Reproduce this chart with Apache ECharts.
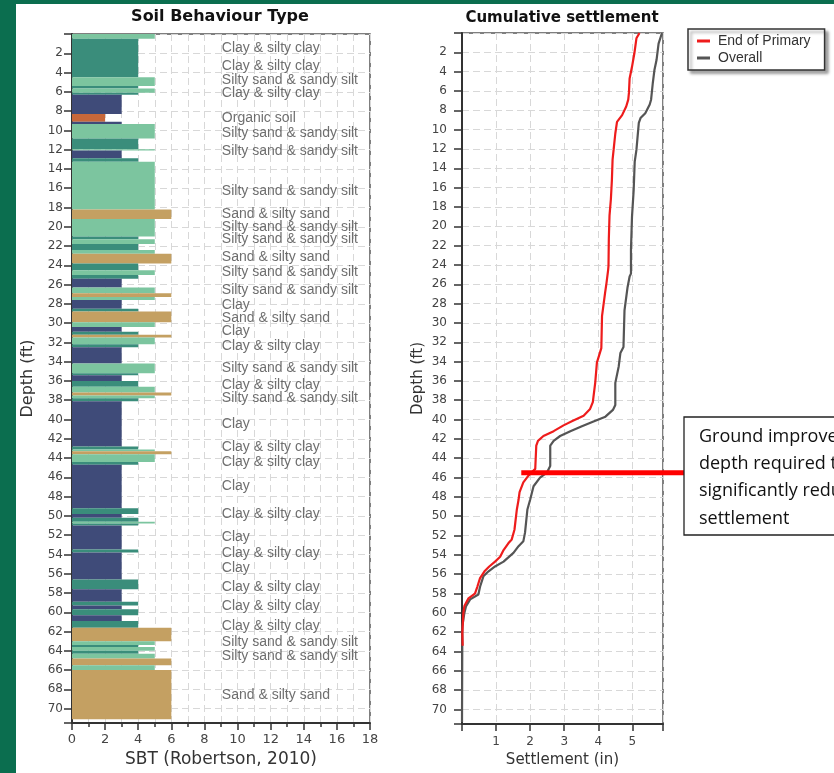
<!DOCTYPE html>
<html>
<head>
<meta charset="utf-8">
<title>Soil Behaviour Type / Cumulative settlement</title>
<script src="https://cdn.jsdelivr.net/npm/echarts@6/dist/echarts.min.js"></script>
<style>
html, body { margin: 0; padding: 0; background: #fff; }
#chart { width: 834px; height: 773px; }
</style>
</head>
<body>
<div id="chart"></div>
<script>
// SBT layers (depth in ft)
var layerTop = [0, 0.5, 4.5, 5.4, 5.65, 6.1, 6.3, 8.3, 9.1, 9.35, 10.85, 11.95, 12.1, 12.9, 13.25, 18.2, 19.2, 21.0, 21.3, 21.8,
  22.4, 22.8, 23.8, 24.5, 25.0, 25.4, 26.3, 26.9, 27.3, 27.6, 28.5, 28.8, 29.9, 30.4, 30.9, 31.2, 31.5, 32.2, 32.5, 34.2,
  35.2, 35.4, 36.0, 36.6, 37.2, 37.5, 37.8, 38.1, 42.8, 43.1, 43.3, 43.6, 44.4, 44.7, 49.2, 49.8, 50.2, 50.6, 50.8, 51.0,
  53.5, 53.8, 56.6, 57.6, 58.9, 59.3, 59.7, 60.3, 60.9, 61.6, 63.0, 63.4, 63.6, 64.0, 64.3, 64.8, 65.5, 66.0];
var layerBottom = [0.5, 4.5, 5.4, 5.65, 6.1, 6.3, 8.3, 9.1, 9.35, 10.85, 11.95, 12.1, 12.9, 13.25, 18.2, 19.2, 21.0, 21.3, 21.8, 22.4,
  22.8, 23.8, 24.5, 25.0, 25.4, 26.3, 26.9, 27.3, 27.6, 28.5, 28.8, 29.9, 30.4, 30.9, 31.2, 31.5, 32.2, 32.5, 34.2, 35.2,
  35.4, 36.0, 36.6, 37.2, 37.5, 37.8, 38.1, 42.8, 43.1, 43.3, 43.6, 44.4, 44.7, 49.2, 49.8, 50.2, 50.6, 50.8, 51.0, 53.5,
  53.8, 56.6, 57.6, 58.9, 59.3, 59.7, 60.3, 60.9, 61.6, 63.0, 63.4, 63.6, 64.0, 64.3, 64.8, 65.5, 66.0, 71.1];
var layerSbt = [5, 4, 5, 4, 5, 4, 3, 2, 3, 5, 4, 5, 3, 4, 5, 6, 5, 4, 5, 4,
  5, 6, 4, 5, 4, 3, 5, 6, 5, 3, 4, 6, 5, 3, 4, 6, 5, 4, 3, 5,
  4, 3, 4, 5, 6, 5, 4, 3, 4, 5, 6, 5, 4, 3, 4, 3, 4, 5, 4, 3,
  4, 3, 4, 3, 4, 3, 4, 3, 4, 6, 5, 4, 5, 4, 5, 6, 5, 6];

// soil type labels
var labelDepth = [1.5, 3.35, 4.8, 6.15, 8.75, 10.25, 12.2, 16.3, 18.65, 20.0, 21.25, 23.2, 24.75, 26.55, 28.1, 29.5, 30.8, 32.35,
  34.65, 36.4, 37.75, 40.45, 42.9, 44.4, 46.9, 49.85, 52.25, 53.85, 55.4, 57.4, 59.35, 61.4, 63.15, 64.55, 68.65];
var labelName = ['Clay & silty clay', 'Clay & silty clay', 'Silty sand & sandy silt', 'Clay & silty clay', 'Organic soil',
  'Silty sand & sandy silt', 'Silty sand & sandy silt', 'Silty sand & sandy silt', 'Sand & silty sand', 'Silty sand & sandy silt',
  'Silty sand & sandy silt', 'Sand & silty sand', 'Silty sand & sandy silt', 'Silty sand & sandy silt', 'Clay', 'Sand & silty sand',
  'Clay', 'Clay & silty clay', 'Silty sand & sandy silt', 'Clay & silty clay', 'Silty sand & sandy silt', 'Clay', 'Clay & silty clay',
  'Clay & silty clay', 'Clay', 'Clay & silty clay', 'Clay', 'Clay & silty clay', 'Clay', 'Clay & silty clay', 'Clay & silty clay',
  'Clay & silty clay', 'Silty sand & sandy silt', 'Silty sand & sandy silt', 'Sand & silty sand'];

// cumulative settlement (in) vs depth (ft)
var eopDepth = [0, 0.55, 2.1, 3.5, 4.7, 6.2, 6.9, 7.6, 8.5, 9.2, 10.4, 12.1, 13.1, 15.2, 17.2, 18.9, 21.3, 24.1, 24.5, 25.9,
  26.9, 29.3, 32.6, 34.1, 36.2, 38.2, 38.9, 39.6, 40.1, 40.6, 41.2, 41.7, 42.2, 42.7, 45.1, 45.8, 46.5, 47.5, 48.3, 49.3,
  51.4, 52.4, 52.8, 53.5, 54.2, 54.7, 55.2, 55.7, 56.4, 57.3, 58.0, 58.5, 59.3, 60.0, 62.1, 63.4];
var eopSettle = [5.21, 5.12, 5.06, 4.99, 4.92, 4.90, 4.88, 4.82, 4.70, 4.55, 4.50, 4.45, 4.42, 4.40, 4.37, 4.33, 4.31, 4.30, 4.29, 4.24,
  4.20, 4.11, 4.09, 3.96, 3.91, 3.84, 3.76, 3.57, 3.27, 2.98, 2.69, 2.39, 2.23, 2.18, 2.15, 1.95, 1.80, 1.69, 1.66, 1.61,
  1.54, 1.46, 1.36, 1.22, 1.12, 0.97, 0.80, 0.66, 0.53, 0.45, 0.38, 0.19, 0.07, 0.04, 0.01, 0.02];
var overallDepth = [0, 1.1, 2.8, 3.8, 5.2, 6.9, 7.4, 8.3, 8.8, 9.3, 12.1, 13.3, 16.2, 19.0, 22.4, 24.9, 25.2, 26.3, 28.7, 32.5,
  33.1, 34.5, 36.2, 38.5, 39.0, 39.7, 40.2, 40.7, 41.2, 41.7, 42.2, 42.7, 44.8, 45.5, 46.0, 46.9, 48.3, 49.3, 51.7, 52.6,
  53.1, 53.8, 54.7, 55.2, 55.7, 56.2, 57.3, 58.1, 58.6, 59.3, 60.0, 60.7, 61.4, 71.3];
var overallSettle = [5.87, 5.77, 5.71, 5.65, 5.60, 5.55, 5.51, 5.38, 5.24, 5.19, 5.12, 5.07, 5.04, 4.99, 4.96, 4.96, 4.92, 4.86, 4.77, 4.74,
  4.65, 4.60, 4.50, 4.50, 4.43, 4.21, 3.86, 3.52, 3.18, 2.88, 2.69, 2.59, 2.59, 2.49, 2.29, 2.10, 2.00, 1.92, 1.85, 1.80,
  1.66, 1.51, 1.22, 0.97, 0.78, 0.63, 0.53, 0.48, 0.24, 0.12, 0.07, 0.04, 0.01, 0.0];

var improvementDepth = 45.5;
var improvementText = 'Ground improvement\ndepth required to\nsignificantly reduce\nsettlement';

var sbtColors = { 2: '#c8683a', 3: '#3f4b79', 4: '#3a8d7b', 5: '#7cc59f', 6: '#c4a062' };
var gridLine = { color: '#d8d8d8', type: [7, 4], width: 1 };
var darkLine = { color: '#333', width: 2 };

function depthAxis(gridIndex, labelSize, labelMargin, nameSize, nameGap) {
  return {
    type: 'value', gridIndex: gridIndex, inverse: true, min: 0, max: 71.5, interval: 2,
    name: 'Depth (ft)', nameLocation: 'middle', nameGap: nameGap,
    nameTextStyle: { fontFamily: 'DejaVu Sans', fontSize: nameSize, color: '#333' },
    axisLine: { show: true, onZero: false, lineStyle: darkLine },
    axisTick: { show: true, length: 8, lineStyle: { color: '#333', width: 1.5 } },
    axisLabel: {
      fontFamily: 'DejaVu Sans', fontSize: labelSize, color: '#444', margin: labelMargin,
      formatter: function (v) { return (v > 0 && v < 71 && v % 2 === 0) ? String(v) : ''; }
    },
    splitLine: { show: true, lineStyle: gridLine }
  };
}

var chart = echarts.init(document.getElementById('chart'));

var option = {
  animation: false,
  backgroundColor: '#fff',
  title: [
    { text: 'Soil Behaviour Type', left: 220, top: 9, textAlign: 'center', padding: 0,
      textStyle: { fontFamily: 'DejaVu Sans', fontWeight: 'bold', fontSize: 16, color: '#111' } },
    { text: 'Cumulative settlement', left: 562, top: 11, textAlign: 'center', padding: 0,
      textStyle: { fontFamily: 'DejaVu Sans', fontWeight: 'bold', fontSize: 15, color: '#111' } }
  ],
  legend: {
    left: 688, top: 29, orient: 'vertical',
    data: ['End of Primary', 'Overall'],
    icon: 'rect', itemWidth: 13, itemHeight: 3, itemGap: 3,
    padding: [5, 14, 5, 9],
    borderColor: '#333', borderWidth: 1.5, backgroundColor: '#fff',
    shadowColor: 'rgba(0,0,0,0.35)', shadowBlur: 3, shadowOffsetX: 3, shadowOffsetY: 3,
    textStyle: { fontFamily: 'Liberation Sans', fontSize: 14, color: '#333', padding: [0, 0, 0, 3] }
  },
  grid: [
    { left: 72, top: 34, width: 298, height: 691, show: true, borderColor: '#555', borderWidth: 1.5 },
    { left: 462, top: 33, width: 201, height: 691, show: true, borderColor: '#555', borderWidth: 1.5 }
  ],
  xAxis: [
    {
      type: 'value', gridIndex: 0, min: 0, max: 18, interval: 2, position: 'bottom',
      name: 'SBT (Robertson, 2010)', nameLocation: 'middle', nameGap: 22,
      nameTextStyle: { fontFamily: 'DejaVu Sans', fontSize: 17, color: '#333' },
      axisLine: { show: true, onZero: false, lineStyle: darkLine },
      axisTick: { show: true, length: 7, lineStyle: { color: '#333', width: 1.5 } },
      minorTick: { show: true, splitNumber: 2, length: 4, lineStyle: { color: '#333', width: 1.5 } },
      axisLabel: { fontFamily: 'DejaVu Sans', fontSize: 13, color: '#444', margin: 10 },
      splitLine: { show: true, lineStyle: gridLine },
      minorSplitLine: { show: true, lineStyle: gridLine }
    },
    {
      type: 'value', gridIndex: 1, min: 0, max: 5.9, interval: 1, position: 'bottom',
      name: 'Settlement (in)', nameLocation: 'middle', nameGap: 27,
      nameTextStyle: { fontFamily: 'DejaVu Sans', fontSize: 15, color: '#333' },
      axisLine: { show: true, onZero: false, lineStyle: darkLine },
      axisTick: { show: true, length: 7, lineStyle: { color: '#333', width: 1.5 } },
      axisLabel: {
        fontFamily: 'DejaVu Sans', fontSize: 12, color: '#444', margin: 12,
        formatter: function (v) { return (v > 0 && v <= 5 && Math.round(v) === v) ? String(v) : ''; }
      },
      splitLine: { show: true, lineStyle: gridLine }
    }
  ],
  yAxis: [
    depthAxis(0, 12, 9, 16, 36),
    depthAxis(1, 12, 15, 15, 36)
  ],
  series: [
    {
      type: 'custom', name: 'SBT', xAxisIndex: 0, yAxisIndex: 0, silent: true,
      data: layerTop.map(function (t, i) { return [t, layerBottom[i], layerSbt[i]]; }),
      encode: { x: 2, y: [0, 1] },
      renderItem: function (params, api) {
        var p0 = api.coord([0, api.value(0)]);
        var p1 = api.coord([api.value(2), api.value(1)]);
        return {
          type: 'rect',
          shape: { x: p0[0], y: p0[1], width: p1[0] - p0[0], height: p1[1] - p0[1] },
          style: { fill: sbtColors[api.value(2)] }
        };
      }
    },
    {
      type: 'scatter', name: 'labels', xAxisIndex: 0, yAxisIndex: 0, silent: true,
      symbolSize: 0,
      data: labelDepth.map(function (d, i) { return { value: [9.05, d], name: labelName[i] }; }),
      label: {
        show: true, position: 'right', distance: 0, formatter: '{b}',
        fontFamily: 'Liberation Sans', fontSize: 14, color: '#4a4a4a'
      },
      z: 5
    },
    {
      type: 'line', name: 'Overall', xAxisIndex: 1, yAxisIndex: 1,
      data: overallDepth.map(function (d, i) { return [overallSettle[i], d]; }),
      showSymbol: false, lineStyle: { color: '#555', width: 2.2 }, itemStyle: { color: '#555' }
    },
    {
      type: 'line', name: 'End of Primary', xAxisIndex: 1, yAxisIndex: 1,
      data: eopDepth.map(function (d, i) { return [eopSettle[i], d]; }),
      showSymbol: false, lineStyle: { color: '#ee1c1c', width: 2.2 }, itemStyle: { color: '#ee1c1c' }
    }
  ]
};

chart.setOption(option);

// annotation: box on the right and red marker line at the improvement depth
var lineStart = chart.convertToPixel({ xAxisIndex: 1, yAxisIndex: 1 }, [1.74, improvementDepth]);
chart.setOption({
  graphic: [
    { type: 'rect', shape: { x: 0, y: 0, width: 16, height: 773 }, style: { fill: '#0b6e4f' }, z: 200 },
    { type: 'rect', shape: { x: 0, y: 0, width: 834, height: 4 }, style: { fill: '#0b6e4f' }, z: 200 },
    { type: 'line', shape: { x1: lineStart[0], y1: lineStart[1], x2: 684, y2: lineStart[1] },
      style: { stroke: '#ff0000', lineWidth: 5 }, z: 100 },
    { type: 'rect', shape: { x: 684, y: 417, width: 200, height: 118 },
      style: { fill: '#fff', stroke: '#222', lineWidth: 1.3 }, z: 100 },
    { type: 'text', x: 699, y: 423, z: 101,
      style: { text: improvementText, font: '18px "Open Sans"', fill: '#111', lineHeight: 27.3, verticalAlign: 'top' } }
  ]
});
</script>
</body>
</html>
